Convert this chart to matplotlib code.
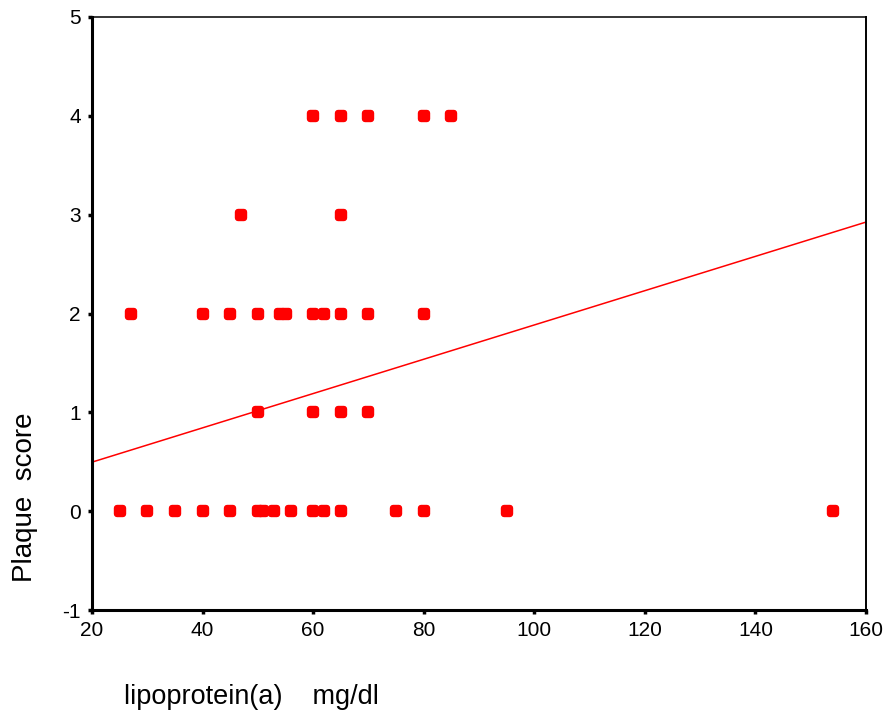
import matplotlib
matplotlib.use("Agg")
import matplotlib.pyplot as plt
from matplotlib.markers import MarkerStyle
import numpy as np

plt.rcParams['font.family'] = ['Liberation Sans', 'DejaVu Sans']

# Data
lpa_score0 = [25, 30, 35, 40, 45, 50, 51, 53, 56, 60, 62, 65, 75, 80, 95, 154]
lpa_score1 = [50, 60, 65, 70]
lpa_score2 = [27, 40, 45, 50, 54, 55, 60, 62, 65, 70, 80]
lpa_score3 = [47, 65]
lpa_score4 = [60, 65, 70, 80, 85]

fit_intercept = 0.149
fit_slope = 0.01735

x_ticks = [20, 40, 60, 80, 100, 120, 140, 160]
y_ticks = [-1, 0, 1, 2, 3, 4, 5]

x_vals = lpa_score0 + lpa_score1 + lpa_score2 + lpa_score3 + lpa_score4
y_vals = ([0] * len(lpa_score0) + [1] * len(lpa_score1) + [2] * len(lpa_score2)
          + [3] * len(lpa_score3) + [4] * len(lpa_score4))

W, H = 888, 715
fig = plt.figure(figsize=(W / 100, H / 100), dpi=100)
ax = fig.add_axes([92 / W, 1 - 610 / H, (866 - 92) / W, (610 - 17) / H])

red = '#ff0000'
mk = MarkerStyle('s', joinstyle='round')
ax.plot(x_vals, y_vals, linestyle='none', marker=mk, markersize=5.0,
        markerfacecolor=red, markeredgecolor=red, markeredgewidth=4.6,
        zorder=3, clip_on=False)

xl = np.array([20, 160])
ax.plot(xl, fit_intercept + fit_slope * xl, color=red, linewidth=1.1, zorder=2)

ax.set_xlim(20, 160)
ax.set_ylim(-1, 5)
ax.set_xticks(x_ticks)
ax.set_yticks(y_ticks)
ax.set_xticklabels([str(t) for t in x_ticks], fontsize=15)
ax.set_yticklabels([str(t) for t in y_ticks], fontsize=15)
ax.tick_params(axis='both', direction='out', length=3, width=2.5, color='black')
ax.tick_params(axis='x', pad=5)
ax.tick_params(axis='y', pad=5)

ax.spines['left'].set_linewidth(2.2)
ax.spines['bottom'].set_linewidth(2.2)
ax.spines['top'].set_linewidth(1.1)
ax.spines['right'].set_linewidth(1.4)

fig.text(124 / W, 1 - 697 / H, 'lipoprotein(a)    mg/dl', ha='left', va='center',
         fontsize=19.5)
fig.text(25 / W, 1 - 497 / H, 'Plaque  score', ha='center', va='center',
         rotation=90, fontsize=20)

fig.savefig('out.png', dpi=100)
